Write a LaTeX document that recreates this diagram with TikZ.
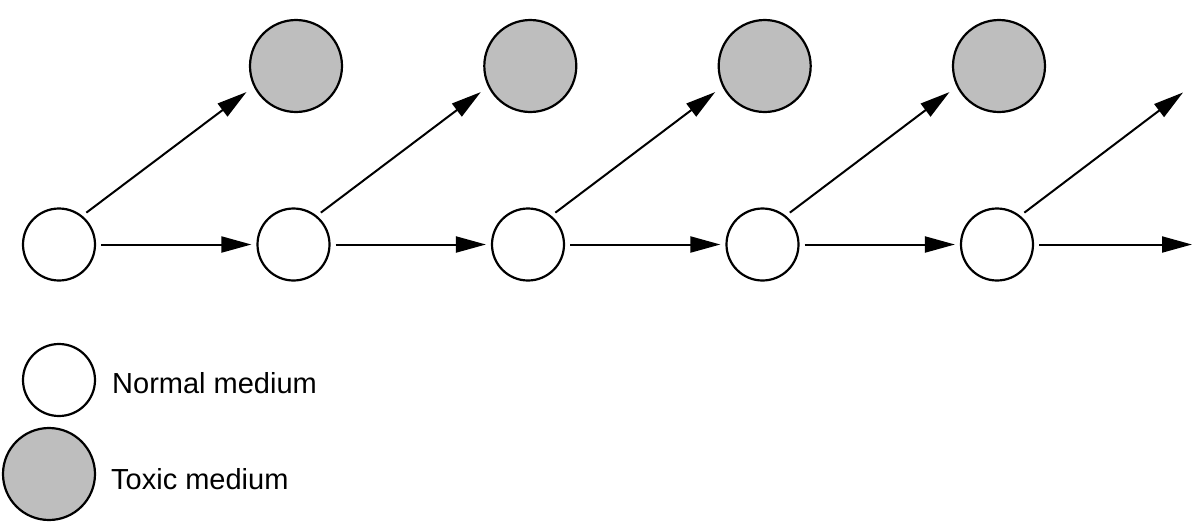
\documentclass[tikz,border=0pt]{standalone}
\usepackage{fontspec}
\setmainfont{Liberation Sans}
\usetikzlibrary{arrows.meta,calc}
\definecolor{toxic}{RGB}{190,190,190}
\tikzset{
  normal/.style={circle,draw=black,line width=2.2pt,fill=white,minimum size=72pt,inner sep=0pt},
  toxicnode/.style={circle,draw=black,line width=2.2pt,fill=toxic,minimum size=92pt,inner sep=0pt},
  arr/.style={line width=2pt,-{Triangle[length=30pt,width=16pt]}},
  lbl/.style={inner sep=0pt,anchor=base west,font=\fontsize{29pt}{34pt}\selectfont}
}
\begin{document}
\begin{tikzpicture}[x=1pt,y=-1pt]
\useasboundingbox (0,0) rectangle (1200,531);
% normal medium nodes
\node[normal] (w1) at (59,244.5) {};
\node[normal] (w2) at (293.5,244.5) {};
\node[normal] (w3) at (528,244.5) {};
\node[normal] (w4) at (762.5,244.5) {};
\node[normal] (w5) at (997,244.5) {};
% toxic medium nodes
\node[toxicnode] (g1) at (296,66) {};
\node[toxicnode] (g2) at (530.3,66) {};
\node[toxicnode] (g3) at (764.7,66) {};
\node[toxicnode] (g4) at (999,66) {};
% free ends
\coordinate (e1) at ($(w5)+(186,-152)$);
\coordinate (e2) at ($(w5)+(195,0)$);
% horizontal arrows
\draw[arr,shorten <=5pt,shorten >=5pt] (w1) -- (w2);
\draw[arr,shorten <=5pt,shorten >=5pt] (w2) -- (w3);
\draw[arr,shorten <=5pt,shorten >=5pt] (w3) -- (w4);
\draw[arr,shorten <=5pt,shorten >=5pt] (w4) -- (w5);
\draw[arr,shorten <=5pt] (w5) -- (e2);
% diagonal arrows
\draw[arr,shorten <=5pt,shorten >=9pt] (w1.51) -- (g1.206);
\draw[arr,shorten <=5pt,shorten >=9pt] (w2.51) -- (g2.206);
\draw[arr,shorten <=5pt,shorten >=9pt] (w3.51) -- (g3.206);
\draw[arr,shorten <=5pt,shorten >=9pt] (w4.51) -- (g4.206);
\draw[arr,shorten <=5pt] (w5.51) -- (e1);
% legend
\node[normal] (ln) at (59,380) {};
\node[toxicnode] (lt) at (49,474) {};
\node[lbl] (tn) at (112,393) {Normal medium};
\node[lbl] (tt) at (111,489) {Toxic medium};
\end{tikzpicture}
\end{document}
